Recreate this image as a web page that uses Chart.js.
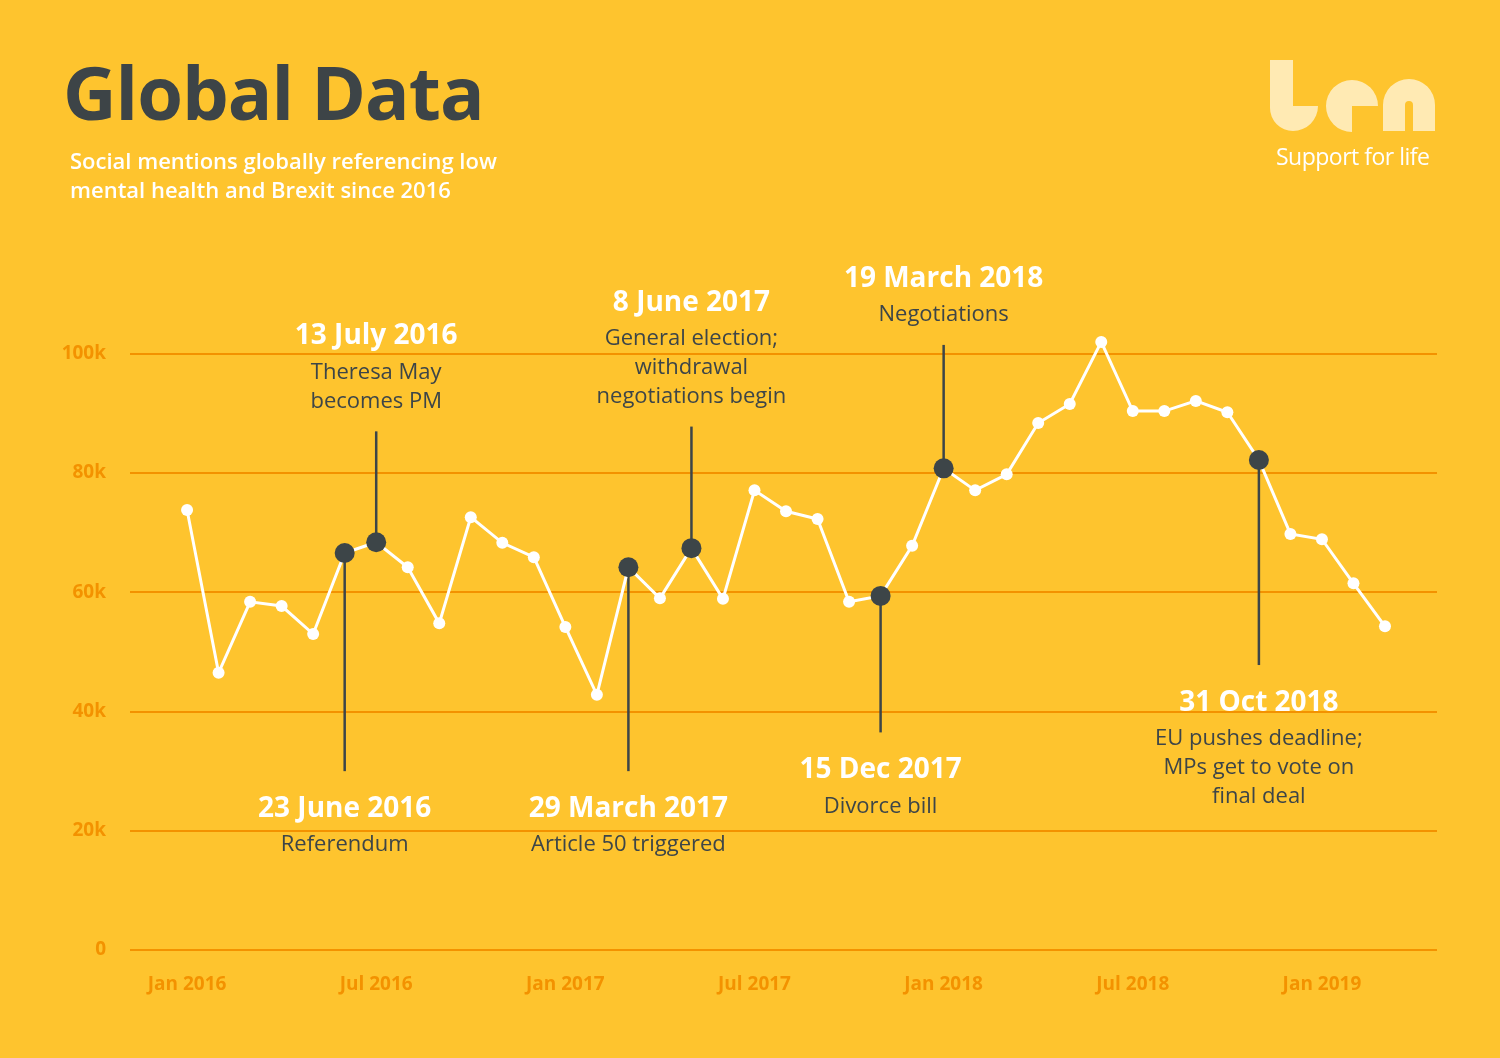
<!DOCTYPE html>
<html>
<head>
<meta charset="utf-8">
<script src="https://cdn.jsdelivr.net/npm/chart.js@4"></script>
<style>
    html, body { margin: 0; padding: 0; background: #fec42e; }
    .page { position: relative; width: 1500px; height: 1058px; overflow: hidden; font-family: "Open Sans", sans-serif; }
    canvas { position: absolute; left: 0; top: 0; }
    .title { position: absolute; left: 63px; top: 41px; font-size: 74px; font-weight: 700; color: #3d4447; letter-spacing: -1px; }
    .subtitle { position: absolute; left: 70px; top: 146px; font-size: 22px; font-weight: 600; line-height: 29px; color: #fff; }
    .logo { position: absolute; left: 1268px; top: 58px; }
    .tagline { position: absolute; left: 1276px; top: 140px; font-size: 23px; color: #fff; letter-spacing: -0.5px; }
</style>
</head>
<body>
<div class="page">
    <canvas id="chart" width="1500" height="1058"></canvas>
    <div class="title">Global Data</div>
    <div class="subtitle">Social mentions globally referencing low<br>mental health and Brexit since 2016</div>
    <svg class="logo" width="170" height="75" viewBox="0 0 170 75">
        <g fill="#ffeab3">
            <path d="M2 2 h23 v46 h25 a25 25 0 0 1 -25 25 a23 23 0 0 1 -23 -23 z"/>
            <path d="M110 48 a26 26 0 1 0 -26 26 v-26 z"/>
            <path d="M115 73 v-26 a26 26 0 0 1 52 0 v26 h-22 v-26 a4 4 0 0 0 -8 0 v26 z"/>
        </g>
    </svg>
    <div class="tagline">Support for life</div>
</div>
<script>
(() => {
    'use strict';

    // monthly social mentions, Jan 2016 .. Mar 2019
    const MONTHS = [
        'Jan 2016', 'Feb 2016', 'Mar 2016', 'Apr 2016', 'May 2016', 'Jun 2016',
        'Jul 2016', 'Aug 2016', 'Sep 2016', 'Oct 2016', 'Nov 2016', 'Dec 2016',
        'Jan 2017', 'Feb 2017', 'Mar 2017', 'Apr 2017', 'May 2017', 'Jun 2017',
        'Jul 2017', 'Aug 2017', 'Sep 2017', 'Oct 2017', 'Nov 2017', 'Dec 2017',
        'Jan 2018', 'Feb 2018', 'Mar 2018', 'Apr 2018', 'May 2018', 'Jun 2018',
        'Jul 2018', 'Aug 2018', 'Sep 2018', 'Oct 2018', 'Nov 2018', 'Dec 2018',
        'Jan 2019', 'Feb 2019', 'Mar 2019'
    ];
    const MENTIONS = [
        73800, 46500, 58400, 57700, 53000, 66600, 68400, 64200, 54800, 72600, 68300, 65900,
        54200, 42800, 64200, 59000, 67400, 58900, 77100, 73600, 72300, 58400, 59400, 67800,
        80800, 77100, 79800, 88400, 91600, 102000, 90400, 90400, 92100, 90200, 82200, 69800,
        68900, 61500, 54300
    ];
    const X_TICKS = [0, 6, 12, 18, 24, 30, 36];
    const Y_TICKS = [0, 20000, 40000, 60000, 80000, 100000];

    // key events
    const EVENT_INDEX = [5, 6, 14, 16, 22, 24, 34];
    const EVENT_DATES = ['23 June 2016', '13 July 2016', '29 March 2017', '8 June 2017', '15 Dec 2017', '19 March 2018', '31 Oct 2018'];
    const EVENT_NOTES = [
        ['Referendum'],
        ['Theresa May', 'becomes PM'],
        ['Article 50 triggered'],
        ['General election;', 'withdrawal', 'negotiations begin'],
        ['Divorce bill'],
        ['Negotiations'],
        ['EU pushes deadline;', 'MPs get to vote on', 'final deal']
    ];
    const EVENT_LINE_END = [30000, 87000, 30000, 87800, 36500, 101500, 47800];

    const ORANGE = '#f39200';
    const DARK = '#3d4548';
    const FONT = '"Open Sans", sans-serif';

    const isEvent = (i) => EVENT_INDEX.indexOf(i) !== -1;

    const eventsPlugin = {
        id: 'events',
        beforeDatasetsDraw(chart) {
            const ctx = chart.ctx;
            const x = chart.scales.x;
            const y = chart.scales.y;

            ctx.save();
            EVENT_INDEX.forEach((idx, n) => {
                const px = x.getPixelForValue(idx);
                const py = y.getPixelForValue(MENTIONS[idx]);
                const pEnd = y.getPixelForValue(EVENT_LINE_END[n]);

                ctx.strokeStyle = DARK;
                ctx.lineWidth = 2.5;
                ctx.beginPath();
                ctx.moveTo(px, py);
                ctx.lineTo(px, pEnd);
                ctx.stroke();

                const notes = EVENT_NOTES[n];
                const above = EVENT_LINE_END[n] > MENTIONS[idx];
                let titleY, noteY;
                if (above) {
                    noteY = pEnd - 30 - (notes.length - 1) * 29;
                    titleY = noteY - 36;
                } else {
                    titleY = pEnd + 38;
                    noteY = titleY + 36;
                }

                ctx.textAlign = 'center';
                ctx.textBaseline = 'middle';
                ctx.fillStyle = '#ffffff';
                ctx.font = '700 28px ' + FONT;
                ctx.fillText(EVENT_DATES[n], px, titleY);

                ctx.fillStyle = DARK;
                ctx.font = '400 22px ' + FONT;
                notes.forEach((line, k) => ctx.fillText(line, px, noteY + k * 29));
            });
            ctx.restore();
        }
    };

    new Chart(document.getElementById('chart').getContext('2d'), {
        type: 'line',
        data: {
            datasets: [{
                data: MENTIONS.map((v, i) => ({ x: i, y: v })),
                borderColor: '#ffffff',
                borderWidth: 3,
                tension: 0,
                clip: false,
                pointRadius: (c) => isEvent(c.dataIndex) ? 10 : 6,
                pointHoverRadius: (c) => isEvent(c.dataIndex) ? 10 : 6,
                pointBorderWidth: 0,
                pointBackgroundColor: (c) => isEvent(c.dataIndex) ? DARK : '#ffffff'
            }]
        },
        options: {
            responsive: false,
            animation: false,
            layout: { padding: { left: 0, right: 63, top: 330, bottom: 0 } },
            plugins: { legend: { display: false }, tooltip: { enabled: false } },
            scales: {
                x: {
                    type: 'linear',
                    min: -1.81,
                    max: 39.65,
                    afterBuildTicks: (s) => { s.ticks = X_TICKS.map(v => ({ value: v })); },
                    afterFit: (s) => { s.height = 108; },
                    grid: { display: false },
                    border: { display: false },
                    ticks: {
                        padding: 15,
                        color: ORANGE,
                        font: { family: FONT, size: 19, weight: '700' },
                        maxRotation: 0,
                        callback: (v) => MONTHS[v]
                    }
                },
                y: {
                    min: 0,
                    max: 104000,
                    afterBuildTicks: (s) => { s.ticks = Y_TICKS.map(v => ({ value: v })); },
                    afterFit: (s) => { s.width = 130; },
                    grid: { color: ORANGE, lineWidth: 2, drawTicks: false },
                    border: { display: false },
                    ticks: {
                        padding: 24,
                        color: ORANGE,
                        font: { family: FONT, size: 19, weight: '700' },
                        callback: (v) => v === 0 ? '0' : (v / 1000) + 'k'
                    }
                }
            }
        },
        plugins: [eventsPlugin]
    });
})();
</script>
</body>
</html>
